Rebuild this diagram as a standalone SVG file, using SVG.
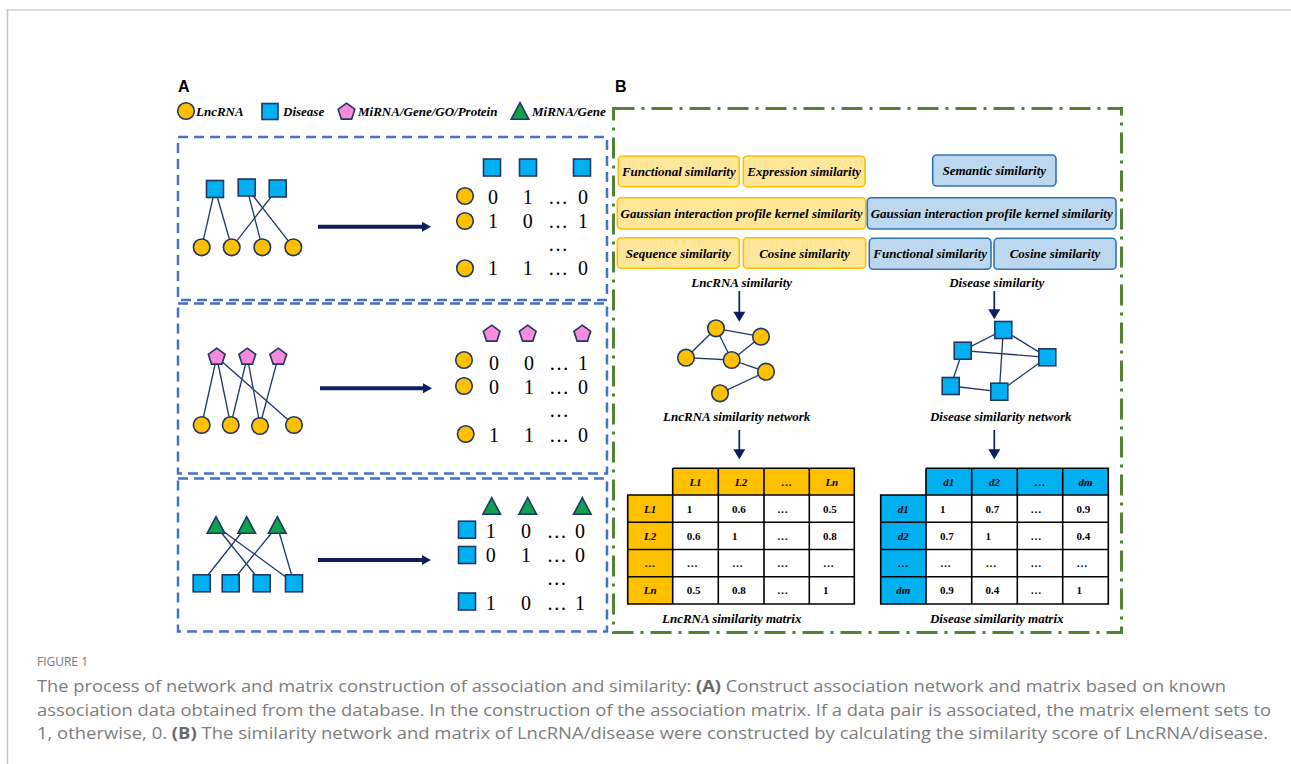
<svg xmlns="http://www.w3.org/2000/svg" xmlns:xlink="http://www.w3.org/1999/xlink" width="1291" height="764" viewBox="0 0 1291 764">
  <style>
    .lnc { fill: #FFC000; stroke: #1F3864; stroke-width: 1.6; }
    .dis { fill: #00B0F0; stroke: #1F3864; stroke-width: 1.6; }
    .pen { fill: #F98BDA; stroke: #1F3864; stroke-width: 1.6; }
    .tri { fill: #10A14C; stroke: #1F3864; stroke-width: 1.6; }
    .edge { stroke: #1F3864; stroke-width: 1.3; fill: none; }
    .arrow { fill: #0B1F5C; }
    .shaft { stroke: #0B1F5C; fill: none; }
    .bi { font-family: "Liberation Serif", "Times New Roman", serif; font-weight: bold; font-style: italic; font-size: 13px; fill: #000; }
    .mid { text-anchor: middle; }
    .num { font-family: "Liberation Serif", "Times New Roman", serif; font-size: 20px; fill: #000; text-anchor: middle; }
    .cell { font-family: "Liberation Serif", "Times New Roman", serif; font-weight: bold; font-size: 11px; fill: #000; }
    .hcell { font-family: "Liberation Serif", "Times New Roman", serif; font-weight: bold; font-style: italic; font-size: 11px; fill: #000; text-anchor: middle; }
    .boxA { fill: none; stroke: #4472C4; stroke-width: 2.5; stroke-dasharray: 10 6; }
    .boxB { fill: none; stroke: #548235; stroke-width: 3; stroke-dasharray: 21 7 3 7; }
    .ysim { fill: #FFE699; stroke: #FFC000; stroke-width: 1.6; }
    .bsim { fill: #BDD7EE; stroke: #2E75B6; stroke-width: 1.6; }
    .grid { fill: none; stroke: #000; stroke-width: 1.6; }
    .cap { font-family: "Open Sans", "Liberation Sans", sans-serif; font-size: 16.5px; fill: #7d7d7d; }
    .capb { font-weight: bold; fill: #6a6a6a; }
  </style>
  <defs>
    <circle id="c" r="8.3"/>
    <rect id="s" x="-8.5" y="-8.5" width="17" height="17"/>
    <polygon id="p" points="0,-8.8 8.37,-2.72 5.17,7.12 -5.17,7.12 -8.37,-2.72"/>
    <polygon id="t" points="0,-8.3 8.8,8.3 -8.8,8.3"/>
  </defs>

  <rect width="1291" height="764" fill="#fff"/>
  <!-- page frame -->
  <line x1="7" y1="10" x2="1291" y2="10" stroke="#dcdcdc" stroke-width="2"/>
  <line x1="7.5" y1="9" x2="7.5" y2="764" stroke="#c4c4c4" stroke-width="1.5"/>

  <!-- panel letters -->
  <text x="178" y="92" font-family="Liberation Sans, Arial, sans-serif" font-weight="bold" font-size="16">A</text>
  <text x="615" y="92" font-family="Liberation Sans, Arial, sans-serif" font-weight="bold" font-size="16">B</text>

  <!-- legend -->
  <g id="legend">
    <use href="#c" class="lnc" x="186" y="111"/>
    <text class="bi" x="196" y="115.5">LncRNA</text>
    <rect class="dis" x="262" y="103.5" width="16" height="16"/>
    <text class="bi" x="283" y="115.5">Disease</text>
    <use href="#p" class="pen" x="346.5" y="112"/>
    <text class="bi" x="358" y="115.5">MiRNA/Gene/GO/Protein</text>
    <use href="#t" class="tri" x="520" y="111"/>
    <text class="bi" x="532" y="115.5">MiRNA/Gene</text>
  </g>

  <!-- frames -->
  <rect class="boxA" x="178" y="137" width="429" height="163"/>
  <rect class="boxA" x="178" y="303.5" width="429" height="170"/>
  <rect class="boxA" x="178" y="478.5" width="429" height="153"/>
  <rect class="boxB" x="613.5" y="108.5" width="508" height="524"/>

  <!-- connectors -->
  <g id="connectors">
    <!-- lncRNA-disease network edges -->
    <line class="edge" x1="215" y1="189" x2="201.7" y2="247.3"/>
    <line class="edge" x1="215" y1="189" x2="231.7" y2="247.3"/>
    <line class="edge" x1="246.7" y1="187.5" x2="262.3" y2="247.3"/>
    <line class="edge" x1="246.7" y1="187.5" x2="293.3" y2="247.3"/>
    <line class="edge" x1="277.7" y1="188.5" x2="231.7" y2="247.3"/>
    <!-- lncRNA-molecule network edges -->
    <line class="edge" x1="216.7" y1="357" x2="201.7" y2="425"/>
    <line class="edge" x1="216.7" y1="357" x2="230.7" y2="425"/>
    <line class="edge" x1="216.7" y1="357" x2="294" y2="425"/>
    <line class="edge" x1="247.3" y1="357" x2="230.7" y2="425"/>
    <line class="edge" x1="247.3" y1="357" x2="260" y2="425"/>
    <line class="edge" x1="278.3" y1="357" x2="260" y2="425"/>
    <!-- disease-miRNA network edges -->
    <line class="edge" x1="216" y1="526" x2="261.7" y2="583"/>
    <line class="edge" x1="216" y1="526" x2="294" y2="583"/>
    <line class="edge" x1="246.7" y1="526" x2="201.7" y2="583"/>
    <line class="edge" x1="277.3" y1="526" x2="230.7" y2="583"/>
    <line class="edge" x1="277.3" y1="526" x2="294" y2="583"/>

    <!-- network to matrix arrows -->
    <line class="shaft" x1="318" y1="226.7" x2="424" y2="226.7" stroke-width="4"/>
    <polygon class="arrow" points="422,221.7 431,226.7 422,231.7"/>
    <line class="shaft" x1="320" y1="388.3" x2="425" y2="388.3" stroke-width="4"/>
    <polygon class="arrow" points="423,383.3 432,388.3 423,393.3"/>
    <line class="shaft" x1="318" y1="560" x2="424" y2="560" stroke-width="4"/>
    <polygon class="arrow" points="422,555 431,560 422,565"/>

    <!-- lncRNA similarity network edges -->
    <line class="edge" x1="716" y1="328.3" x2="761" y2="336.7"/>
    <line class="edge" x1="716" y1="328.3" x2="686" y2="357.7"/>
    <line class="edge" x1="716" y1="328.3" x2="731.7" y2="360"/>
    <line class="edge" x1="761" y1="336.7" x2="731.7" y2="360"/>
    <line class="edge" x1="686" y1="357.7" x2="731.7" y2="360"/>
    <line class="edge" x1="731.7" y1="360" x2="766" y2="371.7"/>
    <line class="edge" x1="766" y1="371.7" x2="720" y2="393.3"/>
    <!-- disease similarity network edges -->
    <line class="edge" x1="1003.3" y1="330" x2="962.7" y2="350.7"/>
    <line class="edge" x1="1003.3" y1="330" x2="1047.3" y2="357.3"/>
    <line class="edge" x1="1003.3" y1="330" x2="999.3" y2="391.7"/>
    <line class="edge" x1="962.7" y1="350.7" x2="1047.3" y2="357.3"/>
    <line class="edge" x1="962.7" y1="350.7" x2="950.7" y2="386"/>
    <line class="edge" x1="950.7" y1="386" x2="999.3" y2="391.7"/>
    <line class="edge" x1="999.3" y1="391.7" x2="1047.3" y2="357.3"/>

    <!-- similarity flow arrows -->
    <line class="shaft" x1="739.3" y1="291" x2="739.3" y2="313" stroke-width="1.7"/>
    <polygon class="arrow" points="733.3,311.7 745.3,311.7 739.3,321.7"/>
    <line class="shaft" x1="994.3" y1="291" x2="994.3" y2="311" stroke-width="1.7"/>
    <polygon class="arrow" points="988.3,309.3 1000.3,309.3 994.3,319.3"/>
    <line class="shaft" x1="739.3" y1="430" x2="739.3" y2="451" stroke-width="1.7"/>
    <polygon class="arrow" points="733.3,449.3 745.3,449.3 739.3,459.3"/>
    <line class="shaft" x1="994.3" y1="430" x2="994.3" y2="451" stroke-width="1.7"/>
    <polygon class="arrow" points="988.3,449.3 1000.3,449.3 994.3,459.3"/>
  </g>

  <!-- lncRNA-disease association -->
  <g id="assoc-ld">
    <use id="ld-d1" href="#s" class="dis" x="215" y="189"/>
    <use id="ld-d2" href="#s" class="dis" x="246.7" y="187.5"/>
    <use id="ld-d3" href="#s" class="dis" x="277.7" y="188.5"/>
    <use id="ld-l1" href="#c" class="lnc" x="201.7" y="247.3"/>
    <use id="ld-l2" href="#c" class="lnc" x="231.7" y="247.3"/>
    <use id="ld-l3" href="#c" class="lnc" x="262.3" y="247.3"/>
    <use id="ld-l4" href="#c" class="lnc" x="293.3" y="247.3"/>
  </g>
  <g id="matrix-ld">
    <use href="#s" class="dis" x="492" y="167.5"/>
    <use href="#s" class="dis" x="528" y="167.5"/>
    <use href="#s" class="dis" x="582" y="167.5"/>
    <use href="#c" class="lnc" x="465" y="196"/>
    <use href="#c" class="lnc" x="465" y="221"/>
    <use href="#c" class="lnc" x="465" y="268.3"/>
    <text class="num" y="203.5"><tspan x="493">0</tspan><tspan x="527.7">1</tspan><tspan x="558">…</tspan><tspan x="583">0</tspan></text>
    <text class="num" y="228"><tspan x="493">1</tspan><tspan x="527.7">0</tspan><tspan x="558">…</tspan><tspan x="583">1</tspan></text>
    <text class="num" x="558" y="251">…</text>
    <text class="num" y="275"><tspan x="493">1</tspan><tspan x="527.7">1</tspan><tspan x="558">…</tspan><tspan x="583">0</tspan></text>
  </g>

  <!-- lncRNA-molecule association -->
  <g id="assoc-lm">
    <use id="lm-m1" href="#p" class="pen" x="216.7" y="357"/>
    <use id="lm-m2" href="#p" class="pen" x="247.3" y="357"/>
    <use id="lm-m3" href="#p" class="pen" x="278.3" y="357"/>
    <use id="lm-l1" href="#c" class="lnc" x="201.7" y="425"/>
    <use id="lm-l2" href="#c" class="lnc" x="230.7" y="425"/>
    <use id="lm-l3" href="#c" class="lnc" x="260" y="426"/>
    <use id="lm-l4" href="#c" class="lnc" x="294" y="425"/>
  </g>
  <g id="matrix-lm">
    <use href="#p" class="pen" x="491.7" y="334"/>
    <use href="#p" class="pen" x="527.7" y="334"/>
    <use href="#p" class="pen" x="582.3" y="334"/>
    <use href="#c" class="lnc" x="464" y="360"/>
    <use href="#c" class="lnc" x="464" y="386"/>
    <use href="#c" class="lnc" x="465.7" y="434"/>
    <text class="num" y="370"><tspan x="494">0</tspan><tspan x="529">0</tspan><tspan x="559">…</tspan><tspan x="583">1</tspan></text>
    <text class="num" y="394"><tspan x="494">0</tspan><tspan x="529">1</tspan><tspan x="559">…</tspan><tspan x="583">0</tspan></text>
    <text class="num" x="559" y="416.5">…</text>
    <text class="num" y="441.7"><tspan x="494">1</tspan><tspan x="529">1</tspan><tspan x="559">…</tspan><tspan x="583">0</tspan></text>
  </g>

  <!-- disease-miRNA association -->
  <g id="assoc-dm">
    <use id="dm-m1" href="#t" class="tri" x="216" y="525"/>
    <use id="dm-m2" href="#t" class="tri" x="246.7" y="525"/>
    <use id="dm-m3" href="#t" class="tri" x="277.3" y="525"/>
    <use id="dm-d1" href="#s" class="dis" x="201.7" y="583.3"/>
    <use id="dm-d2" href="#s" class="dis" x="230.7" y="583.3"/>
    <use id="dm-d3" href="#s" class="dis" x="261.7" y="583.3"/>
    <use id="dm-d4" href="#s" class="dis" x="294" y="583.3"/>
  </g>
  <g id="matrix-dm">
    <use href="#t" class="tri" x="491.7" y="506"/>
    <use href="#t" class="tri" x="527.7" y="506"/>
    <use href="#t" class="tri" x="582.3" y="506"/>
    <use href="#s" class="dis" x="467" y="529.7"/>
    <use href="#s" class="dis" x="467" y="555"/>
    <use href="#s" class="dis" x="467" y="601.5"/>
    <text class="num" y="538"><tspan x="490.7">1</tspan><tspan x="526">0</tspan><tspan x="556.7">…</tspan><tspan x="580">0</tspan></text>
    <text class="num" y="562"><tspan x="490.7">0</tspan><tspan x="526">1</tspan><tspan x="556.7">…</tspan><tspan x="580">0</tspan></text>
    <text class="num" x="556.7" y="585">…</text>
    <text class="num" y="610"><tspan x="490.7">1</tspan><tspan x="526">0</tspan><tspan x="556.7">…</tspan><tspan x="580">1</tspan></text>
  </g>

  <!-- lncRNA similarity measures -->
  <g id="ls-functional"><rect class="ysim" x="618.3" y="156" width="121" height="30.7" rx="4"/><text class="bi mid" x="678.8" y="175.5">Functional similarity</text></g>
  <g id="ls-expression"><rect class="ysim" x="743.3" y="156" width="121.7" height="30.7" rx="4"/><text class="bi mid" x="804.2" y="175.5">Expression similarity</text></g>
  <g id="ls-gip"><rect class="ysim" x="617.3" y="197.7" width="248.4" height="31.3" rx="4"/><text class="bi mid" x="741.5" y="217.5">Gaussian interaction profile kernel similarity</text></g>
  <g id="ls-sequence"><rect class="ysim" x="617.3" y="237.7" width="122" height="30.6" rx="4"/><text class="bi mid" x="678.3" y="257.5">Sequence similarity</text></g>
  <g id="ls-cosine"><rect class="ysim" x="743.3" y="237.7" width="122.4" height="30.6" rx="4"/><text class="bi mid" x="804.5" y="257.5">Cosine similarity</text></g>
  <text class="bi mid" x="741.7" y="286.5">LncRNA similarity</text>

  <!-- disease similarity measures -->
  <g id="ds-semantic"><rect class="bsim" x="932.7" y="155" width="123.3" height="31" rx="4"/><text class="bi mid" x="994.3" y="175">Semantic similarity</text></g>
  <g id="ds-gip"><rect class="bsim" x="867.3" y="197.7" width="248.7" height="31.3" rx="4"/><text class="bi mid" x="991.7" y="217.5">Gaussian interaction profile kernel similarity</text></g>
  <g id="ds-functional"><rect class="bsim" x="869.3" y="238.3" width="121.7" height="31" rx="4"/><text class="bi mid" x="930.2" y="258.3">Functional similarity</text></g>
  <g id="ds-cosine"><rect class="bsim" x="994" y="238.3" width="122" height="31" rx="4"/><text class="bi mid" x="1055" y="258.3">Cosine similarity</text></g>
  <text class="bi mid" x="996.7" y="287">Disease similarity</text>

  <!-- lncRNA similarity network -->
  <g id="lnc-net">
    <use id="ln-a" href="#c" class="lnc" x="716" y="328.3"/>
    <use id="ln-b" href="#c" class="lnc" x="761" y="336.7"/>
    <use id="ln-c" href="#c" class="lnc" x="686" y="357.7"/>
    <use id="ln-d" href="#c" class="lnc" x="731.7" y="360"/>
    <use id="ln-e" href="#c" class="lnc" x="766" y="371.7"/>
    <use id="ln-f" href="#c" class="lnc" x="720" y="393.3"/>
  </g>
  <text class="bi mid" x="736.7" y="420.5">LncRNA similarity network</text>

  <!-- disease similarity network -->
  <g id="dis-net">
    <use id="dn-p" href="#s" class="dis" x="1003.3" y="330"/>
    <use id="dn-q" href="#s" class="dis" x="962.7" y="350.7"/>
    <use id="dn-r" href="#s" class="dis" x="1047.3" y="357.3"/>
    <use id="dn-s" href="#s" class="dis" x="950.7" y="386"/>
    <use id="dn-t" href="#s" class="dis" x="999.3" y="391.7"/>
  </g>
  <text class="bi mid" x="1000.7" y="420.5">Disease similarity network</text>

  <!-- lncRNA similarity matrix -->
  <g id="lnc-matrix">
    <rect x="672.7" y="468.3" width="181.6" height="26.7" fill="#FFC000"/>
    <rect x="627.7" y="495" width="45" height="109" fill="#FFC000"/>
    <path class="grid" d="M672.7,468.3H854.3V604H627.7V495H854.3M627.7,522.3H854.3M627.7,549.5H854.3M627.7,576.8H854.3M672.7,468.3V604M718.3,468.3V604M764,468.3V604M809.3,468.3V604"/>
    <text class="hcell" y="485.5"><tspan x="695.5">L1</tspan><tspan x="741.2">L2</tspan><tspan x="786.7">…</tspan><tspan x="831.8">Ln</tspan></text>
    <text class="hcell" x="650.2" y="512.5">L1</text>
    <text class="hcell" x="650.2" y="539.8">L2</text>
    <text class="hcell" x="650.2" y="567">…</text>
    <text class="hcell" x="650.2" y="594.2">Ln</text>
    <text class="cell" y="512.5"><tspan x="686.7">1</tspan><tspan x="732">0.6</tspan><tspan x="777">…</tspan><tspan x="823">0.5</tspan></text>
    <text class="cell" y="539.8"><tspan x="686.7">0.6</tspan><tspan x="732">1</tspan><tspan x="777">…</tspan><tspan x="823">0.8</tspan></text>
    <text class="cell" y="567"><tspan x="686.7">…</tspan><tspan x="732">…</tspan><tspan x="777">…</tspan><tspan x="823">…</tspan></text>
    <text class="cell" y="594.2"><tspan x="686.7">0.5</tspan><tspan x="732">0.8</tspan><tspan x="777">…</tspan><tspan x="823">1</tspan></text>
  </g>
  <text class="bi mid" x="731.7" y="622.5">LncRNA similarity matrix</text>

  <!-- disease similarity matrix -->
  <g id="dis-matrix">
    <rect x="926" y="468.3" width="182.3" height="26.7" fill="#00B0F0"/>
    <rect x="880.7" y="495" width="45.3" height="109" fill="#00B0F0"/>
    <path class="grid" d="M926,468.3H1108.3V604H880.7V495H1108.3M880.7,522.3H1108.3M880.7,549.5H1108.3M880.7,576.8H1108.3M926,468.3V604M971.7,468.3V604M1017.3,468.3V604M1062.7,468.3V604"/>
    <text class="hcell" y="485.5"><tspan x="948.8">d1</tspan><tspan x="994.5">d2</tspan><tspan x="1040">…</tspan><tspan x="1085.5">dm</tspan></text>
    <text class="hcell" x="903.3" y="512.5">d1</text>
    <text class="hcell" x="903.3" y="539.8">d2</text>
    <text class="hcell" x="903.3" y="567">…</text>
    <text class="hcell" x="903.3" y="594.2">dm</text>
    <text class="cell" y="512.5"><tspan x="940">1</tspan><tspan x="985.5">0.7</tspan><tspan x="1030.5">…</tspan><tspan x="1076.5">0.9</tspan></text>
    <text class="cell" y="539.8"><tspan x="940">0.7</tspan><tspan x="985.5">1</tspan><tspan x="1030.5">…</tspan><tspan x="1076.5">0.4</tspan></text>
    <text class="cell" y="567"><tspan x="940">…</tspan><tspan x="985.5">…</tspan><tspan x="1030.5">…</tspan><tspan x="1076.5">…</tspan></text>
    <text class="cell" y="594.2"><tspan x="940">0.9</tspan><tspan x="985.5">0.4</tspan><tspan x="1030.5">…</tspan><tspan x="1076.5">1</tspan></text>
  </g>
  <text class="bi mid" x="996.7" y="622.5">Disease similarity matrix</text>

  <!-- caption -->
  <text x="37" y="666" font-family="Open Sans, Liberation Sans, sans-serif" font-size="12.5" fill="#777" textLength="51" lengthAdjust="spacingAndGlyphs">FIGURE 1</text>
  <text class="cap" x="37" y="692" textLength="1189" lengthAdjust="spacingAndGlyphs">The process of network and matrix construction of association and similarity: <tspan class="capb">(A)</tspan> Construct association network and matrix based on known</text>
  <text class="cap" x="37" y="716" textLength="1234" lengthAdjust="spacingAndGlyphs">association data obtained from the database. In the construction of the association matrix. If a data pair is associated, the matrix element sets to</text>
  <text class="cap" x="37" y="739" textLength="1231" lengthAdjust="spacingAndGlyphs">1, otherwise, 0. <tspan class="capb">(B)</tspan> The similarity network and matrix of LncRNA/disease were constructed by calculating the similarity score of LncRNA/disease.</text>
</svg>
